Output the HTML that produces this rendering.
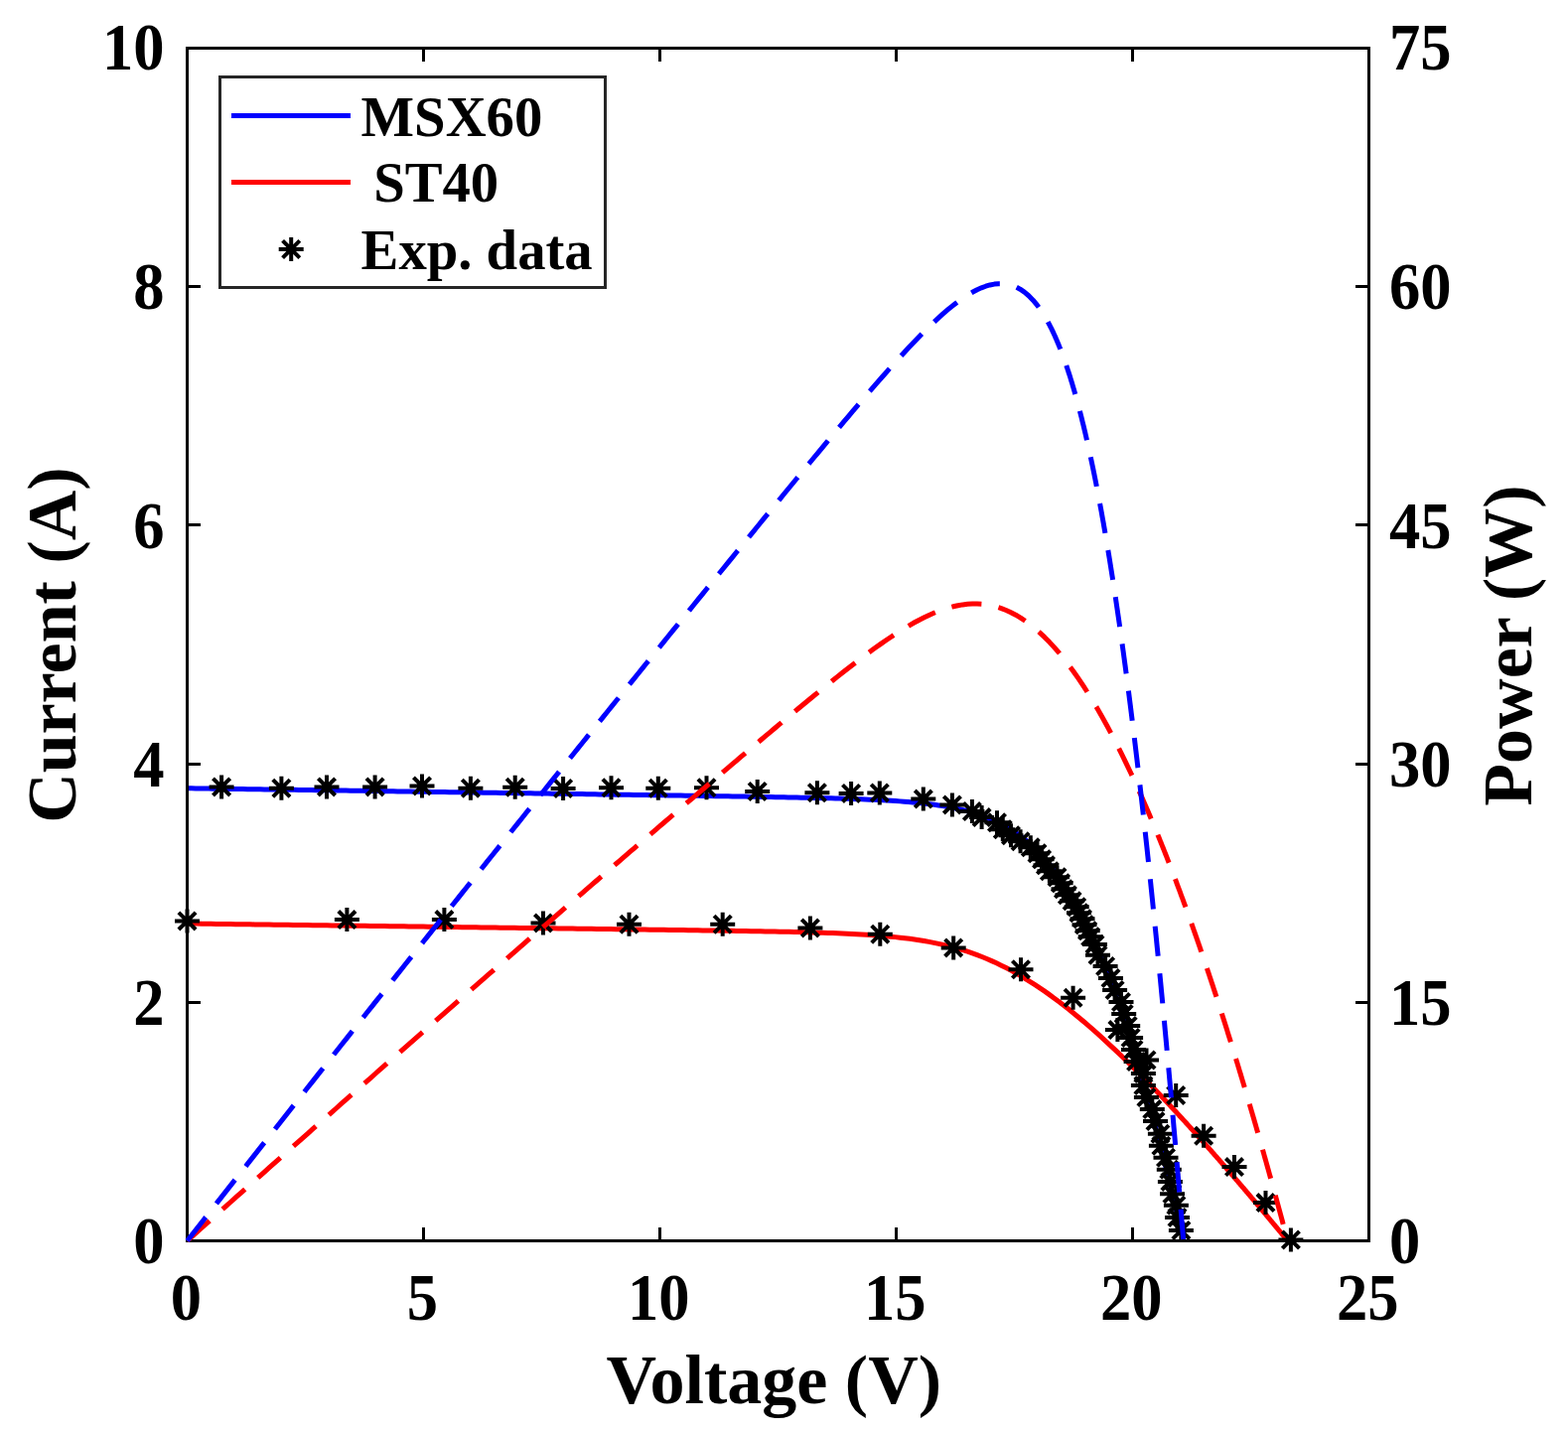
<!DOCTYPE html>
<html lang="en"><head><meta charset="utf-8"><title>I-V and P-V characteristics: MSX60 and ST40</title>
<style>
html,body{margin:0;padding:0;background:#fff;}
body{width:1579px;height:1443px;overflow:hidden;}
svg{display:block;}
text{font-family:"Liberation Serif","Times New Roman",Times,serif;font-weight:bold;fill:#000;}
.tk{font-size:67.3px;}
.lb{font-size:70px;}
.lg{font-size:56.7px;white-space:pre;}
.ax{stroke:#000;stroke-width:3;fill:none;shape-rendering:crispEdges;}
.cv{fill:none;stroke-width:5;stroke-linejoin:round;shape-rendering:auto;}
.st{stroke:#000;stroke-width:4;fill:none;shape-rendering:auto;}
</style></head><body>
<svg width="1579" height="1443" viewBox="0 0 1579 1443" role="img" aria-label="Current-voltage and power-voltage curves of the MSX60 and ST40 modules with experimental data">
<rect x="0" y="0" width="1579" height="1443" fill="#fff"/>
<defs>
<g id="s"><path class="st" d="M-12.5,0H12.5M0,-12.0V12.0M-8.6,-8.6L8.6,8.6M-8.6,8.6L8.6,-8.6"/></g>
</defs>

<path class="cv" stroke="#0000ff" d="M188.50,793.75 L192.82,793.82 L197.15,793.88 L201.47,793.95 L205.79,794.01 L210.12,794.07 L214.44,794.14 L218.76,794.20 L223.09,794.26 L227.41,794.33 L231.73,794.39 L236.06,794.46 L240.38,794.52 L244.71,794.58 L249.03,794.65 L253.35,794.71 L257.68,794.77 L262.00,794.84 L266.32,794.90 L270.65,794.97 L274.97,795.03 L279.29,795.09 L283.62,795.16 L287.94,795.22 L292.26,795.28 L296.59,795.35 L300.91,795.41 L305.23,795.48 L309.56,795.54 L313.88,795.60 L318.20,795.67 L322.53,795.73 L326.85,795.79 L331.17,795.86 L335.50,795.92 L339.82,795.99 L344.14,796.05 L348.47,796.11 L352.79,796.18 L357.12,796.24 L361.44,796.30 L365.76,796.37 L370.09,796.43 L374.41,796.50 L378.73,796.56 L383.06,796.62 L387.38,796.69 L391.70,796.75 L396.03,796.81 L400.35,796.88 L404.67,796.94 L409.00,797.01 L413.32,797.07 L417.64,797.13 L421.97,797.20 L426.29,797.26 L430.61,797.32 L434.94,797.39 L439.26,797.45 L443.58,797.52 L447.91,797.58 L452.23,797.64 L456.55,797.71 L460.88,797.77 L465.20,797.83 L469.53,797.90 L473.85,797.96 L478.17,798.03 L482.50,798.09 L486.82,798.15 L491.14,798.22 L495.47,798.28 L499.79,798.34 L504.11,798.41 L508.44,798.47 L512.76,798.54 L517.08,798.60 L521.41,798.66 L525.73,798.73 L530.05,798.79 L534.38,798.86 L538.70,798.92 L543.02,798.98 L547.35,799.05 L551.67,799.11 L555.99,799.17 L560.32,799.24 L564.64,799.30 L568.97,799.37 L573.29,799.43 L577.61,799.49 L581.94,799.56 L586.26,799.62 L590.58,799.69 L594.91,799.75 L599.23,799.81 L603.55,799.88 L607.88,799.94 L612.20,800.01 L616.52,800.07 L620.85,800.13 L625.17,800.20 L629.49,800.26 L633.82,800.33 L638.14,800.39 L642.46,800.46 L646.79,800.52 L651.11,800.58 L655.43,800.65 L659.76,800.71 L664.08,800.78 L668.40,800.84 L672.73,800.91 L677.05,800.97 L681.38,801.04 L685.70,801.10 L690.02,801.17 L694.35,801.23 L698.67,801.30 L702.99,801.37 L707.32,801.43 L711.64,801.50 L715.96,801.57 L720.29,801.63 L724.61,801.70 L728.93,801.77 L733.26,801.84 L737.58,801.91 L741.90,801.98 L746.23,802.05 L750.55,802.12 L754.87,802.19 L759.20,802.26 L763.52,802.33 L767.84,802.41 L772.17,802.48 L776.49,802.56 L780.82,802.64 L785.14,802.72 L789.46,802.80 L793.79,802.88 L798.11,802.97 L802.43,803.05 L806.76,803.14 L811.08,803.23 L815.40,803.33 L819.73,803.42 L824.05,803.52 L828.37,803.63 L832.70,803.74 L837.02,803.85 L841.34,803.97 L845.67,804.09 L849.99,804.22 L854.31,804.36 L858.64,804.50 L862.96,804.66 L867.28,804.82 L871.61,804.99 L875.93,805.17 L880.25,805.37 L884.58,805.58 L888.90,805.80 L893.23,806.04 L897.55,806.30 L901.87,806.57 L906.20,806.87 L910.52,807.19 L914.84,807.54 L919.17,807.92 L923.49,808.32 L927.81,808.77 L932.14,809.25 L936.46,809.77 L940.78,810.34 L945.11,810.95 L949.43,811.63 L953.75,812.36 L958.08,813.16 L962.40,814.03 L966.72,814.97 L971.05,816.01 L975.37,817.13 L979.69,818.36 L984.02,819.70 L988.34,821.16 L992.66,822.75 L996.99,824.48 L1001.31,826.36 L1005.64,828.41 L1009.96,830.64 L1014.28,833.06 L1018.61,835.68 L1022.93,838.53 L1027.25,841.61 L1031.58,844.94 L1035.90,848.54 L1040.22,852.42 L1044.55,856.60 L1048.87,861.10 L1049.35,861.62 L1049.83,862.14 L1050.30,862.66 L1050.78,863.19 L1051.26,863.73 L1051.74,864.26 L1052.21,864.81 L1052.69,865.35 L1053.17,865.90 L1053.65,866.46 L1054.12,867.02 L1054.60,867.58 L1055.08,868.15 L1055.56,868.72 L1056.03,869.30 L1056.51,869.88 L1056.99,870.46 L1057.47,871.05 L1057.94,871.65 L1058.42,872.24 L1058.90,872.85 L1059.38,873.46 L1059.85,874.07 L1060.33,874.68 L1060.81,875.31 L1061.29,875.93 L1061.76,876.56 L1062.24,877.20 L1062.72,877.84 L1063.20,878.48 L1063.68,879.13 L1064.15,879.78 L1064.63,880.44 L1065.11,881.11 L1065.59,881.77 L1066.06,882.45 L1066.54,883.12 L1067.02,883.81 L1067.50,884.49 L1067.97,885.19 L1068.45,885.88 L1068.93,886.59 L1069.41,887.29 L1069.88,888.00 L1070.36,888.72 L1070.84,889.44 L1071.32,890.17 L1071.79,890.90 L1072.27,891.64 L1072.75,892.38 L1073.23,893.13 L1073.70,893.88 L1074.18,894.64 L1074.66,895.40 L1075.14,896.17 L1075.62,896.94 L1076.09,897.72 L1076.57,898.50 L1077.05,899.29 L1077.53,900.08 L1078.00,900.88 L1078.48,901.68 L1078.96,902.49 L1079.44,903.31 L1079.91,904.13 L1080.39,904.95 L1080.87,905.78 L1081.35,906.62 L1081.82,907.46 L1082.30,908.31 L1082.78,909.16 L1083.26,910.02 L1083.73,910.88 L1084.21,911.75 L1084.69,912.62 L1085.17,913.50 L1085.64,914.38 L1086.12,915.27 L1086.60,916.17 L1087.08,917.07 L1087.55,917.98 L1088.03,918.89 L1088.51,919.81 L1088.99,920.73 L1089.47,921.66 L1089.94,922.59 L1090.42,923.53 L1090.90,924.48 L1091.38,925.43 L1091.85,926.38 L1092.33,927.35 L1092.81,928.31 L1093.29,929.29 L1093.76,930.27 L1094.24,931.25 L1094.72,932.24 L1095.20,933.24 L1095.67,934.24 L1096.15,935.25 L1096.63,936.26 L1097.11,937.28 L1097.58,938.30 L1098.06,939.33 L1098.54,940.37 L1099.02,941.41 L1099.49,942.46 L1099.97,943.51 L1100.45,944.57 L1100.93,945.63 L1101.41,946.70 L1101.88,947.78 L1102.36,948.86 L1102.84,949.95 L1103.32,951.04 L1103.79,952.14 L1104.27,953.25 L1104.75,954.36 L1105.23,955.47 L1105.70,956.60 L1106.18,957.73 L1106.66,958.86 L1107.14,960.00 L1107.61,961.14 L1108.09,962.30 L1108.57,963.45 L1109.05,964.62 L1109.52,965.79 L1110.00,966.96 L1110.48,968.14 L1110.96,969.33 L1111.43,970.52 L1111.91,971.72 L1112.39,972.92 L1112.87,974.13 L1113.34,975.35 L1113.82,976.57 L1114.30,977.80 L1114.78,979.03 L1115.26,980.27 L1115.73,981.51 L1116.21,982.76 L1116.69,984.02 L1117.17,985.28 L1117.64,986.55 L1118.12,987.83 L1118.60,989.11 L1119.08,990.39 L1119.55,991.68 L1120.03,992.98 L1120.51,994.28 L1120.99,995.59 L1121.46,996.91 L1121.94,998.23 L1122.42,999.55 L1122.90,1000.89 L1123.37,1002.22 L1123.85,1003.57 L1124.33,1004.92 L1124.81,1006.27 L1125.28,1007.64 L1125.76,1009.00 L1126.24,1010.37 L1126.72,1011.75 L1127.20,1013.14 L1127.67,1014.53 L1128.15,1015.92 L1128.63,1017.33 L1129.11,1018.73 L1129.58,1020.15 L1130.06,1021.56 L1130.54,1022.99 L1131.02,1024.42 L1131.49,1025.86 L1131.97,1027.30 L1132.45,1028.74 L1132.93,1030.20 L1133.40,1031.66 L1133.88,1033.12 L1134.36,1034.59 L1134.84,1036.07 L1135.31,1037.55 L1135.79,1039.03 L1136.27,1040.53 L1136.75,1042.03 L1137.22,1043.53 L1137.70,1045.04 L1138.18,1046.55 L1138.66,1048.08 L1139.13,1049.60 L1139.61,1051.13 L1140.09,1052.67 L1140.57,1054.21 L1141.05,1055.76 L1141.52,1057.32 L1142.00,1058.88 L1142.48,1060.44 L1142.96,1062.01 L1143.43,1063.59 L1143.91,1065.17 L1144.39,1066.76 L1144.87,1068.35 L1145.34,1069.95 L1145.82,1071.55 L1146.30,1073.16 L1146.78,1074.78 L1147.25,1076.40 L1147.73,1078.02 L1148.21,1079.65 L1148.69,1081.29 L1149.16,1082.93 L1149.64,1084.58 L1150.12,1086.23 L1150.60,1087.89 L1151.07,1089.55 L1151.55,1091.22 L1152.03,1092.90 L1152.51,1094.57 L1152.99,1096.26 L1153.46,1097.95 L1153.94,1099.64 L1154.42,1101.34 L1154.90,1103.05 L1155.37,1104.76 L1155.85,1106.48 L1156.33,1108.20 L1156.81,1109.92 L1157.28,1111.65 L1157.76,1113.39 L1158.24,1115.13 L1158.72,1116.88 L1159.19,1118.63 L1159.67,1120.39 L1160.15,1122.15 L1160.63,1123.92 L1161.10,1125.69 L1161.58,1127.47 L1162.06,1129.25 L1162.54,1131.04 L1163.01,1132.83 L1163.49,1134.63 L1163.97,1136.43 L1164.45,1138.24 L1164.92,1140.05 L1165.40,1141.87 L1165.88,1143.69 L1166.36,1145.52 L1166.84,1147.35 L1167.31,1149.19 L1167.79,1151.03 L1168.27,1152.88 L1168.75,1154.73 L1169.22,1156.59 L1169.70,1158.45 L1170.18,1160.32 L1170.66,1162.19 L1171.13,1164.07 L1171.61,1165.95 L1172.09,1167.83 L1172.57,1169.72 L1173.04,1171.62 L1173.52,1173.52 L1174.00,1175.42 L1174.48,1177.33 L1174.95,1179.25 L1175.43,1181.17 L1175.91,1183.09 L1176.39,1185.02 L1176.86,1186.95 L1177.34,1188.89 L1177.82,1190.83 L1178.30,1192.78 L1178.78,1194.73 L1179.25,1196.69 L1179.73,1198.65 L1180.21,1200.61 L1180.69,1202.58 L1181.16,1204.56 L1181.64,1206.53 L1182.12,1208.52 L1182.60,1210.50 L1183.07,1212.50 L1183.55,1214.49 L1184.03,1216.49 L1184.51,1218.50 L1184.98,1220.51 L1185.46,1222.52 L1185.94,1224.54 L1186.42,1226.57 L1186.89,1228.59 L1187.37,1230.62 L1187.85,1232.66 L1188.33,1234.70 L1188.80,1236.74 L1189.28,1238.79 L1189.76,1240.85 L1190.24,1242.90 L1190.71,1244.97 L1191.19,1247.03 L1191.67,1249.10"/>
<path class="cv" stroke="#ff0000" d="M188.50,929.99 L193.35,930.06 L198.20,930.12 L203.05,930.19 L207.90,930.25 L212.75,930.31 L217.61,930.38 L222.46,930.44 L227.31,930.51 L232.16,930.57 L237.01,930.63 L241.86,930.70 L246.71,930.76 L251.56,930.83 L256.41,930.89 L261.26,930.95 L266.11,931.02 L270.97,931.08 L275.82,931.14 L280.67,931.21 L285.52,931.27 L290.37,931.34 L295.22,931.40 L300.07,931.46 L304.92,931.53 L309.77,931.59 L314.62,931.66 L319.47,931.72 L324.33,931.78 L329.18,931.85 L334.03,931.91 L338.88,931.97 L343.73,932.04 L348.58,932.10 L353.43,932.17 L358.28,932.23 L363.13,932.29 L367.98,932.36 L372.83,932.42 L377.68,932.49 L382.54,932.55 L387.39,932.61 L392.24,932.68 L397.09,932.74 L401.94,932.80 L406.79,932.87 L411.64,932.93 L416.49,933.00 L421.34,933.06 L426.19,933.12 L431.04,933.19 L435.90,933.25 L440.75,933.32 L445.60,933.38 L450.45,933.44 L455.30,933.51 L460.15,933.57 L465.00,933.64 L469.85,933.70 L474.70,933.76 L479.55,933.83 L484.40,933.89 L489.26,933.95 L494.11,934.02 L498.96,934.08 L503.81,934.15 L508.66,934.21 L513.51,934.27 L518.36,934.34 L523.21,934.40 L528.06,934.47 L532.91,934.53 L537.76,934.59 L542.62,934.66 L547.47,934.72 L552.32,934.79 L557.17,934.85 L562.02,934.91 L566.87,934.98 L571.72,935.04 L576.57,935.11 L581.42,935.17 L586.27,935.23 L591.12,935.30 L595.98,935.36 L600.83,935.43 L605.68,935.49 L610.53,935.56 L615.38,935.62 L620.23,935.69 L625.08,935.75 L629.93,935.82 L634.78,935.88 L639.63,935.95 L644.48,936.01 L649.33,936.08 L654.19,936.14 L659.04,936.21 L663.89,936.27 L668.74,936.34 L673.59,936.41 L678.44,936.47 L683.29,936.54 L688.14,936.61 L692.99,936.68 L697.84,936.74 L702.69,936.81 L707.55,936.88 L712.40,936.95 L717.25,937.02 L722.10,937.10 L726.95,937.17 L731.80,937.24 L736.65,937.32 L741.50,937.39 L746.35,937.47 L751.20,937.55 L756.05,937.63 L760.91,937.71 L765.76,937.80 L770.61,937.89 L775.46,937.98 L780.31,938.07 L785.16,938.17 L790.01,938.27 L794.86,938.37 L799.71,938.48 L804.56,938.60 L809.41,938.72 L814.27,938.85 L819.12,938.98 L823.97,939.13 L828.82,939.28 L833.67,939.44 L838.52,939.61 L843.37,939.80 L848.22,940.00 L853.07,940.21 L857.92,940.44 L862.77,940.69 L867.63,940.96 L872.48,941.25 L877.33,941.57 L882.18,941.91 L887.03,942.29 L891.88,942.69 L896.73,943.14 L901.58,943.62 L906.43,944.14 L911.28,944.71 L916.13,945.33 L920.99,946.00 L925.84,946.74 L930.69,947.53 L935.54,948.39 L940.39,949.33 L945.24,950.34 L950.09,951.43 L954.94,952.60 L959.79,953.87 L964.64,955.22 L969.49,956.68 L974.34,958.23 L979.20,959.89 L984.05,961.65 L988.90,963.53 L993.75,965.51 L998.60,967.61 L1003.45,969.82 L1008.30,972.15 L1013.15,974.59 L1018.00,977.15 L1022.85,979.82 L1027.70,982.60 L1032.56,985.50 L1037.41,988.51 L1042.26,991.63 L1047.11,994.85 L1051.96,998.18 L1056.81,1001.61 L1061.66,1005.15 L1066.51,1008.77 L1071.36,1012.50 L1076.21,1016.31 L1081.06,1020.22 L1085.92,1024.21 L1090.77,1028.28 L1095.62,1032.44 L1100.47,1036.67 L1105.32,1040.98 L1110.17,1045.36 L1115.02,1049.81 L1119.87,1054.33 L1124.72,1058.92 L1129.57,1063.56 L1134.42,1068.27 L1139.28,1073.04 L1144.13,1077.86 L1148.98,1082.74 L1153.83,1087.67 L1154.31,1088.15 L1154.78,1088.64 L1155.26,1089.13 L1155.74,1089.62 L1156.22,1090.11 L1156.69,1090.60 L1157.17,1091.09 L1157.65,1091.58 L1158.13,1092.08 L1158.60,1092.57 L1159.08,1093.06 L1159.56,1093.55 L1160.04,1094.05 L1160.51,1094.54 L1160.99,1095.04 L1161.47,1095.53 L1161.95,1096.03 L1162.42,1096.52 L1162.90,1097.02 L1163.38,1097.52 L1163.86,1098.02 L1164.34,1098.51 L1164.81,1099.01 L1165.29,1099.51 L1165.77,1100.01 L1166.25,1100.51 L1166.72,1101.01 L1167.20,1101.51 L1167.68,1102.01 L1168.16,1102.51 L1168.63,1103.02 L1169.11,1103.52 L1169.59,1104.02 L1170.07,1104.52 L1170.54,1105.03 L1171.02,1105.53 L1171.50,1106.04 L1171.98,1106.54 L1172.45,1107.05 L1172.93,1107.55 L1173.41,1108.06 L1173.89,1108.57 L1174.36,1109.07 L1174.84,1109.58 L1175.32,1110.09 L1175.80,1110.60 L1176.27,1111.11 L1176.75,1111.61 L1177.23,1112.12 L1177.71,1112.63 L1178.19,1113.14 L1178.66,1113.66 L1179.14,1114.17 L1179.62,1114.68 L1180.10,1115.19 L1180.57,1115.70 L1181.05,1116.22 L1181.53,1116.73 L1182.01,1117.24 L1182.48,1117.76 L1182.96,1118.27 L1183.44,1118.79 L1183.92,1119.30 L1184.39,1119.82 L1184.87,1120.33 L1185.35,1120.85 L1185.83,1121.37 L1186.30,1121.88 L1186.78,1122.40 L1187.26,1122.92 L1187.74,1123.44 L1188.21,1123.96 L1188.69,1124.47 L1189.17,1124.99 L1189.65,1125.51 L1190.12,1126.03 L1190.60,1126.55 L1191.08,1127.08 L1191.56,1127.60 L1192.04,1128.12 L1192.51,1128.64 L1192.99,1129.16 L1193.47,1129.69 L1193.95,1130.21 L1194.42,1130.73 L1194.90,1131.26 L1195.38,1131.78 L1195.86,1132.31 L1196.33,1132.83 L1196.81,1133.36 L1197.29,1133.88 L1197.77,1134.41 L1198.24,1134.93 L1198.72,1135.46 L1199.20,1135.99 L1199.68,1136.52 L1200.15,1137.04 L1200.63,1137.57 L1201.11,1138.10 L1201.59,1138.63 L1202.06,1139.16 L1202.54,1139.69 L1203.02,1140.22 L1203.50,1140.75 L1203.98,1141.28 L1204.45,1141.81 L1204.93,1142.34 L1205.41,1142.87 L1205.89,1143.40 L1206.36,1143.94 L1206.84,1144.47 L1207.32,1145.00 L1207.80,1145.53 L1208.27,1146.07 L1208.75,1146.60 L1209.23,1147.14 L1209.71,1147.67 L1210.18,1148.21 L1210.66,1148.74 L1211.14,1149.28 L1211.62,1149.81 L1212.09,1150.35 L1212.57,1150.88 L1213.05,1151.42 L1213.53,1151.96 L1214.00,1152.50 L1214.48,1153.03 L1214.96,1153.57 L1215.44,1154.11 L1215.91,1154.65 L1216.39,1155.19 L1216.87,1155.73 L1217.35,1156.27 L1217.83,1156.81 L1218.30,1157.35 L1218.78,1157.89 L1219.26,1158.43 L1219.74,1158.97 L1220.21,1159.51 L1220.69,1160.05 L1221.17,1160.60 L1221.65,1161.14 L1222.12,1161.68 L1222.60,1162.22 L1223.08,1162.77 L1223.56,1163.31 L1224.03,1163.85 L1224.51,1164.40 L1224.99,1164.94 L1225.47,1165.49 L1225.94,1166.03 L1226.42,1166.58 L1226.90,1167.12 L1227.38,1167.67 L1227.85,1168.22 L1228.33,1168.76 L1228.81,1169.31 L1229.29,1169.86 L1229.77,1170.40 L1230.24,1170.95 L1230.72,1171.50 L1231.20,1172.05 L1231.68,1172.60 L1232.15,1173.14 L1232.63,1173.69 L1233.11,1174.24 L1233.59,1174.79 L1234.06,1175.34 L1234.54,1175.89 L1235.02,1176.44 L1235.50,1176.99 L1235.97,1177.54 L1236.45,1178.10 L1236.93,1178.65 L1237.41,1179.20 L1237.88,1179.75 L1238.36,1180.30 L1238.84,1180.86 L1239.32,1181.41 L1239.79,1181.96 L1240.27,1182.52 L1240.75,1183.07 L1241.23,1183.62 L1241.70,1184.18 L1242.18,1184.73 L1242.66,1185.29 L1243.14,1185.84 L1243.62,1186.40 L1244.09,1186.95 L1244.57,1187.51 L1245.05,1188.06 L1245.53,1188.62 L1246.00,1189.18 L1246.48,1189.73 L1246.96,1190.29 L1247.44,1190.85 L1247.91,1191.41 L1248.39,1191.96 L1248.87,1192.52 L1249.35,1193.08 L1249.82,1193.64 L1250.30,1194.20 L1250.78,1194.76 L1251.26,1195.31 L1251.73,1195.87 L1252.21,1196.43 L1252.69,1196.99 L1253.17,1197.55 L1253.64,1198.11 L1254.12,1198.68 L1254.60,1199.24 L1255.08,1199.80 L1255.56,1200.36 L1256.03,1200.92 L1256.51,1201.48 L1256.99,1202.05 L1257.47,1202.61 L1257.94,1203.17 L1258.42,1203.73 L1258.90,1204.30 L1259.38,1204.86 L1259.85,1205.42 L1260.33,1205.99 L1260.81,1206.55 L1261.29,1207.12 L1261.76,1207.68 L1262.24,1208.24 L1262.72,1208.81 L1263.20,1209.38 L1263.67,1209.94 L1264.15,1210.51 L1264.63,1211.07 L1265.11,1211.64 L1265.58,1212.20 L1266.06,1212.77 L1266.54,1213.34 L1267.02,1213.91 L1267.49,1214.47 L1267.97,1215.04 L1268.45,1215.61 L1268.93,1216.18 L1269.41,1216.74 L1269.88,1217.31 L1270.36,1217.88 L1270.84,1218.45 L1271.32,1219.02 L1271.79,1219.59 L1272.27,1220.16 L1272.75,1220.73 L1273.23,1221.30 L1273.70,1221.87 L1274.18,1222.44 L1274.66,1223.01 L1275.14,1223.58 L1275.61,1224.15 L1276.09,1224.72 L1276.57,1225.29 L1277.05,1225.86 L1277.52,1226.44 L1278.00,1227.01 L1278.48,1227.58 L1278.96,1228.15 L1279.43,1228.72 L1279.91,1229.30 L1280.39,1229.87 L1280.87,1230.44 L1281.35,1231.02 L1281.82,1231.59 L1282.30,1232.16 L1282.78,1232.74 L1283.26,1233.31 L1283.73,1233.89 L1284.21,1234.46 L1284.69,1235.04 L1285.17,1235.61 L1285.64,1236.19 L1286.12,1236.76 L1286.60,1237.34 L1287.08,1237.91 L1287.55,1238.49 L1288.03,1239.07 L1288.51,1239.64 L1288.99,1240.22 L1289.46,1240.80 L1289.94,1241.37 L1290.42,1241.95 L1290.90,1242.53 L1291.37,1243.11 L1291.85,1243.68 L1292.33,1244.26 L1292.81,1244.84 L1293.28,1245.42 L1293.76,1246.00 L1294.24,1246.58 L1294.72,1247.16 L1295.20,1247.73 L1295.67,1248.31 L1296.15,1248.89 L1296.63,1249.47"/>
<g id="expdata">
<use href="#s" x="188.5" y="927.4"/>
<use href="#s" x="349.4" y="926.1"/>
<use href="#s" x="447.4" y="926.1"/>
<use href="#s" x="547.0" y="929.4"/>
<use href="#s" x="633.5" y="930.7"/>
<use href="#s" x="727.7" y="930.7"/>
<use href="#s" x="815.9" y="934.5"/>
<use href="#s" x="886.3" y="940.8"/>
<use href="#s" x="960.2" y="954.4"/>
<use href="#s" x="1028.0" y="976.2"/>
<use href="#s" x="1080.6" y="1004.7"/>
<use href="#s" x="1125.4" y="1037.1"/>
<use href="#s" x="1154.5" y="1067.4"/>
<use href="#s" x="1184.2" y="1103.0"/>
<use href="#s" x="1212.1" y="1143.8"/>
<use href="#s" x="1243.0" y="1175.1"/>
<use href="#s" x="1274.5" y="1211.1"/>
<use href="#s" x="1299.9" y="1248.5"/>
<use href="#s" x="223.1" y="792.4"/>
<use href="#s" x="283.4" y="793.7"/>
<use href="#s" x="329.0" y="792.4"/>
<use href="#s" x="377.6" y="792.4"/>
<use href="#s" x="425.0" y="791.4"/>
<use href="#s" x="473.9" y="793.7"/>
<use href="#s" x="518.7" y="792.7"/>
<use href="#s" x="567.1" y="794.0"/>
<use href="#s" x="615.5" y="793.2"/>
<use href="#s" x="662.8" y="793.7"/>
<use href="#s" x="711.5" y="793.2"/>
<use href="#s" x="762.7" y="797.0"/>
<use href="#s" x="822.9" y="798.3"/>
<use href="#s" x="857.1" y="798.9"/>
<use href="#s" x="885.8" y="798.4"/>
<use href="#s" x="929.8" y="804.6"/>
<use href="#s" x="958.9" y="810.4"/>
<use href="#s" x="978.9" y="817.1"/>
<use href="#s" x="988.6" y="823.1"/>
<use href="#s" x="1004.0" y="828.2"/>
<use href="#s" x="1009.8" y="835.2"/>
<use href="#s" x="1018.0" y="841.2"/>
<use href="#s" x="1027.6" y="847.2"/>
<use href="#s" x="1037.8" y="853.2"/>
<use href="#s" x="1044.5" y="859.2"/>
<use href="#s" x="1049.1" y="865.2"/>
<use href="#s" x="1053.0" y="871.2"/>
<use href="#s" x="1056.9" y="877.2"/>
<use href="#s" x="1064.5" y="883.2"/>
<use href="#s" x="1068.1" y="889.2"/>
<use href="#s" x="1071.0" y="895.2"/>
<use href="#s" x="1074.9" y="901.2"/>
<use href="#s" x="1079.6" y="907.2"/>
<use href="#s" x="1084.2" y="913.2"/>
<use href="#s" x="1086.5" y="919.2"/>
<use href="#s" x="1090.0" y="925.2"/>
<use href="#s" x="1092.0" y="931.2"/>
<use href="#s" x="1095.2" y="937.2"/>
<use href="#s" x="1098.2" y="943.2"/>
<use href="#s" x="1102.5" y="950.9"/>
<use href="#s" x="1105.5" y="961.8"/>
<use href="#s" x="1113.1" y="973.0"/>
<use href="#s" x="1118.5" y="985.0"/>
<use href="#s" x="1122.6" y="997.0"/>
<use href="#s" x="1129.0" y="1009.0"/>
<use href="#s" x="1131.7" y="1021.0"/>
<use href="#s" x="1135.7" y="1033.0"/>
<use href="#s" x="1138.6" y="1045.0"/>
<use href="#s" x="1141.5" y="1057.0"/>
<use href="#s" x="1144.1" y="1069.0"/>
<use href="#s" x="1151.4" y="1081.1"/>
<use href="#s" x="1151.4" y="1093.1"/>
<use href="#s" x="1154.4" y="1105.1"/>
<use href="#s" x="1160.3" y="1117.1"/>
<use href="#s" x="1163.5" y="1129.1"/>
<use href="#s" x="1168.4" y="1141.8"/>
<use href="#s" x="1169.4" y="1153.8"/>
<use href="#s" x="1174.0" y="1165.8"/>
<use href="#s" x="1177.3" y="1177.8"/>
<use href="#s" x="1178.4" y="1189.9"/>
<use href="#s" x="1180.5" y="1202.2"/>
<use href="#s" x="1184.4" y="1213.8"/>
<use href="#s" x="1185.5" y="1226.0"/>
<use href="#s" x="1189.4" y="1239.0"/>
</g>
<rect class="ax" x="188.5" y="48.5" width="1190.0" height="1201.0"/>
<path class="ax" d="M426.5,1249.5V1236.0M426.5,48.5V62.0M664.5,1249.5V1236.0M664.5,48.5V62.0M902.5,1249.5V1236.0M902.5,48.5V62.0M1140.5,1249.5V1236.0M1140.5,48.5V62.0M188.5,1009.5H202.0M188.5,769.5H202.0M188.5,528.5H202.0M188.5,288.5H202.0M1378.5,1009.5H1365.0M1378.5,769.5H1365.0M1378.5,528.5H1365.0M1378.5,288.5H1365.0"/>
<path class="cv" stroke="#ff0000" stroke-dasharray="30.3 17.445" d="M188.50,1249.50 L193.35,1245.16 L198.20,1240.82 L203.05,1236.48 L207.90,1232.15 L212.75,1227.81 L217.61,1223.48 L222.46,1219.15 L227.31,1214.82 L232.16,1210.50 L237.01,1206.17 L241.86,1201.85 L246.71,1197.53 L251.56,1193.21 L256.41,1188.89 L261.26,1184.57 L266.11,1180.26 L270.97,1175.95 L275.82,1171.64 L280.67,1167.33 L285.52,1163.02 L290.37,1158.71 L295.22,1154.41 L300.07,1150.11 L304.92,1145.81 L309.77,1141.51 L314.62,1137.21 L319.47,1132.91 L324.33,1128.62 L329.18,1124.33 L334.03,1120.04 L338.88,1115.75 L343.73,1111.46 L348.58,1107.18 L353.43,1102.89 L358.28,1098.61 L363.13,1094.33 L367.98,1090.06 L372.83,1085.78 L377.68,1081.50 L382.54,1077.23 L387.39,1072.96 L392.24,1068.69 L397.09,1064.42 L401.94,1060.16 L406.79,1055.89 L411.64,1051.63 L416.49,1047.37 L421.34,1043.11 L426.19,1038.85 L431.04,1034.60 L435.90,1030.34 L440.75,1026.09 L445.60,1021.84 L450.45,1017.59 L455.30,1013.35 L460.15,1009.10 L465.00,1004.86 L469.85,1000.62 L474.70,996.38 L479.55,992.14 L484.40,987.90 L489.26,983.67 L494.11,979.44 L498.96,975.20 L503.81,970.97 L508.66,966.75 L513.51,962.52 L518.36,958.30 L523.21,954.07 L528.06,949.85 L532.91,945.63 L537.76,941.42 L542.62,937.20 L547.47,932.99 L552.32,928.78 L557.17,924.57 L562.02,920.36 L566.87,916.15 L571.72,911.95 L576.57,907.74 L581.42,903.54 L586.27,899.34 L591.12,895.14 L595.98,890.95 L600.83,886.75 L605.68,882.56 L610.53,878.37 L615.38,874.18 L620.23,870.00 L625.08,865.81 L629.93,861.63 L634.78,857.45 L639.63,853.27 L644.48,849.09 L649.33,844.92 L654.19,840.74 L659.04,836.57 L663.89,832.40 L668.74,828.24 L673.59,824.07 L678.44,819.91 L683.29,815.75 L688.14,811.59 L692.99,807.43 L697.84,803.28 L702.69,799.13 L707.55,794.98 L712.40,790.84 L717.25,786.70 L722.10,782.56 L726.95,778.42 L731.80,774.29 L736.65,770.16 L741.50,766.04 L746.35,761.92 L751.20,757.80 L756.05,753.69 L760.91,749.59 L765.76,745.49 L770.61,741.40 L775.46,737.31 L780.31,733.24 L785.16,729.17 L790.01,725.11 L794.86,721.06 L799.71,717.02 L804.56,712.99 L809.41,708.97 L814.27,704.98 L819.12,700.99 L823.97,697.03 L828.82,693.08 L833.67,689.16 L838.52,685.26 L843.37,681.39 L848.22,677.55 L853.07,673.74 L857.92,669.97 L862.77,666.24 L867.63,662.56 L872.48,658.93 L877.33,655.35 L882.18,651.84 L887.03,648.39 L891.88,645.01 L896.73,641.72 L901.58,638.52 L906.43,635.42 L911.28,632.42 L916.13,629.55 L920.99,626.80 L925.84,624.18 L930.69,621.72 L935.54,619.42 L940.39,617.30 L945.24,615.36 L950.09,613.62 L954.94,612.09 L959.79,610.79 L964.64,609.72 L969.49,608.90 L974.34,608.34 L979.20,608.06 L984.05,608.06 L988.90,608.35 L993.75,608.94 L998.60,609.84 L1003.45,611.06 L1008.30,612.60 L1013.15,614.47 L1018.00,616.68 L1022.85,619.22 L1027.70,622.11 L1032.56,625.33 L1037.41,628.90 L1042.26,632.80 L1047.11,637.06 L1051.96,641.65 L1056.81,646.58 L1061.66,651.85 L1066.51,657.46 L1071.36,663.39 L1076.21,669.66 L1081.06,676.25 L1085.92,683.17 L1090.77,690.41 L1095.62,697.96 L1100.47,705.82 L1105.32,714.00 L1110.17,722.47 L1115.02,731.25 L1119.87,740.33 L1124.72,749.70 L1129.57,759.36 L1134.42,769.31 L1139.28,779.54 L1144.13,790.05 L1148.98,800.84 L1153.83,811.90 L1154.31,813.01 L1154.78,814.11 L1155.26,815.22 L1155.74,816.33 L1156.22,817.45 L1156.69,818.56 L1157.17,819.68 L1157.65,820.81 L1158.13,821.93 L1158.60,823.06 L1159.08,824.19 L1159.56,825.32 L1160.04,826.46 L1160.51,827.59 L1160.99,828.73 L1161.47,829.88 L1161.95,831.02 L1162.42,832.17 L1162.90,833.32 L1163.38,834.48 L1163.86,835.63 L1164.34,836.79 L1164.81,837.95 L1165.29,839.11 L1165.77,840.28 L1166.25,841.45 L1166.72,842.62 L1167.20,843.79 L1167.68,844.97 L1168.16,846.15 L1168.63,847.33 L1169.11,848.51 L1169.59,849.70 L1170.07,850.89 L1170.54,852.08 L1171.02,853.28 L1171.50,854.47 L1171.98,855.67 L1172.45,856.87 L1172.93,858.08 L1173.41,859.28 L1173.89,860.49 L1174.36,861.71 L1174.84,862.92 L1175.32,864.14 L1175.80,865.36 L1176.27,866.58 L1176.75,867.80 L1177.23,869.03 L1177.71,870.26 L1178.19,871.49 L1178.66,872.73 L1179.14,873.96 L1179.62,875.20 L1180.10,876.44 L1180.57,877.69 L1181.05,878.94 L1181.53,880.18 L1182.01,881.44 L1182.48,882.69 L1182.96,883.95 L1183.44,885.21 L1183.92,886.47 L1184.39,887.73 L1184.87,889.00 L1185.35,890.27 L1185.83,891.54 L1186.30,892.81 L1186.78,894.09 L1187.26,895.37 L1187.74,896.65 L1188.21,897.93 L1188.69,899.22 L1189.17,900.51 L1189.65,901.80 L1190.12,903.09 L1190.60,904.39 L1191.08,905.69 L1191.56,906.99 L1192.04,908.29 L1192.51,909.60 L1192.99,910.91 L1193.47,912.22 L1193.95,913.53 L1194.42,914.85 L1194.90,916.17 L1195.38,917.49 L1195.86,918.81 L1196.33,920.13 L1196.81,921.46 L1197.29,922.79 L1197.77,924.12 L1198.24,925.46 L1198.72,926.80 L1199.20,928.14 L1199.68,929.48 L1200.15,930.82 L1200.63,932.17 L1201.11,933.52 L1201.59,934.87 L1202.06,936.23 L1202.54,937.58 L1203.02,938.94 L1203.50,940.30 L1203.98,941.67 L1204.45,943.03 L1204.93,944.40 L1205.41,945.77 L1205.89,947.14 L1206.36,948.52 L1206.84,949.90 L1207.32,951.28 L1207.80,952.66 L1208.27,954.05 L1208.75,955.43 L1209.23,956.82 L1209.71,958.21 L1210.18,959.61 L1210.66,961.01 L1211.14,962.41 L1211.62,963.81 L1212.09,965.21 L1212.57,966.62 L1213.05,968.03 L1213.53,969.44 L1214.00,970.85 L1214.48,972.27 L1214.96,973.68 L1215.44,975.10 L1215.91,976.53 L1216.39,977.95 L1216.87,979.38 L1217.35,980.81 L1217.83,982.24 L1218.30,983.68 L1218.78,985.11 L1219.26,986.55 L1219.74,987.99 L1220.21,989.44 L1220.69,990.88 L1221.17,992.33 L1221.65,993.78 L1222.12,995.24 L1222.60,996.69 L1223.08,998.15 L1223.56,999.61 L1224.03,1001.07 L1224.51,1002.54 L1224.99,1004.00 L1225.47,1005.47 L1225.94,1006.94 L1226.42,1008.42 L1226.90,1009.89 L1227.38,1011.37 L1227.85,1012.85 L1228.33,1014.33 L1228.81,1015.82 L1229.29,1017.31 L1229.77,1018.80 L1230.24,1020.29 L1230.72,1021.78 L1231.20,1023.28 L1231.68,1024.78 L1232.15,1026.28 L1232.63,1027.79 L1233.11,1029.29 L1233.59,1030.80 L1234.06,1032.31 L1234.54,1033.82 L1235.02,1035.34 L1235.50,1036.86 L1235.97,1038.37 L1236.45,1039.90 L1236.93,1041.42 L1237.41,1042.95 L1237.88,1044.48 L1238.36,1046.01 L1238.84,1047.54 L1239.32,1049.08 L1239.79,1050.61 L1240.27,1052.15 L1240.75,1053.70 L1241.23,1055.24 L1241.70,1056.79 L1242.18,1058.34 L1242.66,1059.89 L1243.14,1061.44 L1243.62,1063.00 L1244.09,1064.56 L1244.57,1066.12 L1245.05,1067.68 L1245.53,1069.24 L1246.00,1070.81 L1246.48,1072.38 L1246.96,1073.95 L1247.44,1075.52 L1247.91,1077.10 L1248.39,1078.68 L1248.87,1080.26 L1249.35,1081.84 L1249.82,1083.43 L1250.30,1085.01 L1250.78,1086.60 L1251.26,1088.20 L1251.73,1089.79 L1252.21,1091.39 L1252.69,1092.98 L1253.17,1094.58 L1253.64,1096.19 L1254.12,1097.79 L1254.60,1099.40 L1255.08,1101.01 L1255.56,1102.62 L1256.03,1104.24 L1256.51,1105.85 L1256.99,1107.47 L1257.47,1109.09 L1257.94,1110.71 L1258.42,1112.34 L1258.90,1113.97 L1259.38,1115.59 L1259.85,1117.23 L1260.33,1118.86 L1260.81,1120.50 L1261.29,1122.13 L1261.76,1123.78 L1262.24,1125.42 L1262.72,1127.06 L1263.20,1128.71 L1263.67,1130.36 L1264.15,1132.01 L1264.63,1133.66 L1265.11,1135.32 L1265.58,1136.98 L1266.06,1138.64 L1266.54,1140.30 L1267.02,1141.97 L1267.49,1143.63 L1267.97,1145.30 L1268.45,1146.97 L1268.93,1148.65 L1269.41,1150.32 L1269.88,1152.00 L1270.36,1153.68 L1270.84,1155.36 L1271.32,1157.05 L1271.79,1158.73 L1272.27,1160.42 L1272.75,1162.11 L1273.23,1163.81 L1273.70,1165.50 L1274.18,1167.20 L1274.66,1168.90 L1275.14,1170.60 L1275.61,1172.30 L1276.09,1174.01 L1276.57,1175.72 L1277.05,1177.43 L1277.52,1179.14 L1278.00,1180.86 L1278.48,1182.57 L1278.96,1184.29 L1279.43,1186.01 L1279.91,1187.74 L1280.39,1189.46 L1280.87,1191.19 L1281.35,1192.92 L1281.82,1194.65 L1282.30,1196.39 L1282.78,1198.12 L1283.26,1199.86 L1283.73,1201.60 L1284.21,1203.35 L1284.69,1205.09 L1285.17,1206.84 L1285.64,1208.59 L1286.12,1210.34 L1286.60,1212.09 L1287.08,1213.85 L1287.55,1215.61 L1288.03,1217.37 L1288.51,1219.13 L1288.99,1220.89 L1289.46,1222.66 L1289.94,1224.43 L1290.42,1226.20 L1290.90,1227.97 L1291.37,1229.75 L1291.85,1231.53 L1292.33,1233.31 L1292.81,1235.09 L1293.28,1236.87 L1293.76,1238.66 L1294.24,1240.44 L1294.72,1242.23 L1295.20,1244.03 L1295.67,1245.82 L1296.15,1247.62 L1296.63,1249.42"/>
<path class="cv" stroke="#0000ff" stroke-dasharray="30.3 17.416" d="M188.50,1249.50 L192.82,1243.98 L197.15,1238.46 L201.47,1232.95 L205.79,1227.44 L210.12,1221.92 L214.44,1216.41 L218.76,1210.90 L223.09,1205.39 L227.41,1199.89 L231.73,1194.38 L236.06,1188.88 L240.38,1183.38 L244.71,1177.88 L249.03,1172.38 L253.35,1166.88 L257.68,1161.39 L262.00,1155.89 L266.32,1150.40 L270.65,1144.91 L274.97,1139.42 L279.29,1133.93 L283.62,1128.45 L287.94,1122.96 L292.26,1117.48 L296.59,1112.00 L300.91,1106.52 L305.23,1101.04 L309.56,1095.56 L313.88,1090.09 L318.20,1084.61 L322.53,1079.14 L326.85,1073.67 L331.17,1068.20 L335.50,1062.74 L339.82,1057.27 L344.14,1051.80 L348.47,1046.34 L352.79,1040.88 L357.12,1035.42 L361.44,1029.96 L365.76,1024.51 L370.09,1019.05 L374.41,1013.60 L378.73,1008.14 L383.06,1002.69 L387.38,997.24 L391.70,991.80 L396.03,986.35 L400.35,980.91 L404.67,975.46 L409.00,970.02 L413.32,964.58 L417.64,959.14 L421.97,953.71 L426.29,948.27 L430.61,942.84 L434.94,937.41 L439.26,931.98 L443.58,926.55 L447.91,921.12 L452.23,915.69 L456.55,910.27 L460.88,904.85 L465.20,899.43 L469.53,894.01 L473.85,888.59 L478.17,883.17 L482.50,877.76 L486.82,872.34 L491.14,866.93 L495.47,861.52 L499.79,856.11 L504.11,850.70 L508.44,845.30 L512.76,839.89 L517.08,834.49 L521.41,829.09 L525.73,823.69 L530.05,818.29 L534.38,812.90 L538.70,807.50 L543.02,802.11 L547.35,796.72 L551.67,791.32 L555.99,785.94 L560.32,780.55 L564.64,775.16 L568.97,769.78 L573.29,764.40 L577.61,759.02 L581.94,753.64 L586.26,748.26 L590.58,742.88 L594.91,737.51 L599.23,732.13 L603.55,726.76 L607.88,721.39 L612.20,716.02 L616.52,710.66 L620.85,705.29 L625.17,699.93 L629.49,694.57 L633.82,689.21 L638.14,683.85 L642.46,678.49 L646.79,673.14 L651.11,667.78 L655.43,662.43 L659.76,657.08 L664.08,651.73 L668.40,646.38 L672.73,641.04 L677.05,635.69 L681.38,630.35 L685.70,625.01 L690.02,619.67 L694.35,614.34 L698.67,609.00 L702.99,603.67 L707.32,598.34 L711.64,593.01 L715.96,587.68 L720.29,582.36 L724.61,577.04 L728.93,571.72 L733.26,566.40 L737.58,561.08 L741.90,555.77 L746.23,550.46 L750.55,545.15 L754.87,539.85 L759.20,534.55 L763.52,529.25 L767.84,523.95 L772.17,518.66 L776.49,513.38 L780.82,508.09 L785.14,502.81 L789.46,497.54 L793.79,492.27 L798.11,487.00 L802.43,481.74 L806.76,476.49 L811.08,471.24 L815.40,466.00 L819.73,460.77 L824.05,455.55 L828.37,450.34 L832.70,445.13 L837.02,439.94 L841.34,434.76 L845.67,429.59 L849.99,424.44 L854.31,419.30 L858.64,414.18 L862.96,409.08 L867.28,404.00 L871.61,398.95 L875.93,393.91 L880.25,388.91 L884.58,383.94 L888.90,379.00 L893.23,374.10 L897.55,369.24 L901.87,364.42 L906.20,359.66 L910.52,354.95 L914.84,350.30 L919.17,345.72 L923.49,341.21 L927.81,336.78 L932.14,332.45 L936.46,328.21 L940.78,324.08 L945.11,320.07 L949.43,316.19 L953.75,312.46 L958.08,308.88 L962.40,305.48 L966.72,302.28 L971.05,299.28 L975.37,296.51 L979.69,294.00 L984.02,291.76 L988.34,289.83 L992.66,288.22 L996.99,286.97 L1001.31,286.11 L1005.64,285.68 L1009.96,285.70 L1014.28,286.22 L1018.61,287.28 L1022.93,288.91 L1027.25,291.17 L1031.58,294.10 L1035.90,297.74 L1040.22,302.15 L1044.55,307.37 L1048.87,313.46 L1049.35,314.18 L1049.83,314.92 L1050.30,315.67 L1050.78,316.43 L1051.26,317.21 L1051.74,317.99 L1052.21,318.79 L1052.69,319.59 L1053.17,320.41 L1053.65,321.25 L1054.12,322.09 L1054.60,322.94 L1055.08,323.81 L1055.56,324.69 L1056.03,325.58 L1056.51,326.48 L1056.99,327.40 L1057.47,328.33 L1057.94,329.27 L1058.42,330.22 L1058.90,331.19 L1059.38,332.16 L1059.85,333.16 L1060.33,334.16 L1060.81,335.18 L1061.29,336.20 L1061.76,337.25 L1062.24,338.30 L1062.72,339.37 L1063.20,340.45 L1063.68,341.55 L1064.15,342.66 L1064.63,343.78 L1065.11,344.91 L1065.59,346.06 L1066.06,347.22 L1066.54,348.40 L1067.02,349.59 L1067.50,350.79 L1067.97,352.01 L1068.45,353.24 L1068.93,354.48 L1069.41,355.74 L1069.88,357.02 L1070.36,358.30 L1070.84,359.61 L1071.32,360.92 L1071.79,362.25 L1072.27,363.60 L1072.75,364.96 L1073.23,366.33 L1073.70,367.72 L1074.18,369.12 L1074.66,370.54 L1075.14,371.97 L1075.62,373.42 L1076.09,374.88 L1076.57,376.36 L1077.05,377.85 L1077.53,379.36 L1078.00,380.88 L1078.48,382.42 L1078.96,383.97 L1079.44,385.54 L1079.91,387.12 L1080.39,388.72 L1080.87,390.34 L1081.35,391.97 L1081.82,393.61 L1082.30,395.27 L1082.78,396.95 L1083.26,398.64 L1083.73,400.35 L1084.21,402.08 L1084.69,403.82 L1085.17,405.58 L1085.64,407.35 L1086.12,409.14 L1086.60,410.94 L1087.08,412.77 L1087.55,414.60 L1088.03,416.46 L1088.51,418.33 L1088.99,420.22 L1089.47,422.12 L1089.94,424.04 L1090.42,425.98 L1090.90,427.93 L1091.38,429.90 L1091.85,431.88 L1092.33,433.89 L1092.81,435.91 L1093.29,437.95 L1093.76,440.00 L1094.24,442.07 L1094.72,444.16 L1095.20,446.26 L1095.67,448.39 L1096.15,450.53 L1096.63,452.68 L1097.11,454.86 L1097.58,457.05 L1098.06,459.26 L1098.54,461.48 L1099.02,463.72 L1099.49,465.98 L1099.97,468.26 L1100.45,470.56 L1100.93,472.87 L1101.41,475.20 L1101.88,477.55 L1102.36,479.92 L1102.84,482.30 L1103.32,484.70 L1103.79,487.12 L1104.27,489.56 L1104.75,492.01 L1105.23,494.48 L1105.70,496.97 L1106.18,499.48 L1106.66,502.01 L1107.14,504.55 L1107.61,507.12 L1108.09,509.70 L1108.57,512.29 L1109.05,514.91 L1109.52,517.55 L1110.00,520.20 L1110.48,522.87 L1110.96,525.56 L1111.43,528.27 L1111.91,530.99 L1112.39,533.74 L1112.87,536.50 L1113.34,539.28 L1113.82,542.08 L1114.30,544.90 L1114.78,547.73 L1115.26,550.59 L1115.73,553.46 L1116.21,556.35 L1116.69,559.26 L1117.17,562.19 L1117.64,565.14 L1118.12,568.11 L1118.60,571.09 L1119.08,574.09 L1119.55,577.12 L1120.03,580.16 L1120.51,583.21 L1120.99,586.29 L1121.46,589.39 L1121.94,592.50 L1122.42,595.64 L1122.90,598.79 L1123.37,601.96 L1123.85,605.15 L1124.33,608.36 L1124.81,611.59 L1125.28,614.84 L1125.76,618.10 L1126.24,621.38 L1126.72,624.69 L1127.20,628.01 L1127.67,631.35 L1128.15,634.71 L1128.63,638.09 L1129.11,641.49 L1129.58,644.90 L1130.06,648.34 L1130.54,651.79 L1131.02,655.26 L1131.49,658.76 L1131.97,662.27 L1132.45,665.80 L1132.93,669.35 L1133.40,672.91 L1133.88,676.50 L1134.36,680.11 L1134.84,683.73 L1135.31,687.37 L1135.79,691.04 L1136.27,694.72 L1136.75,698.42 L1137.22,702.14 L1137.70,705.87 L1138.18,709.63 L1138.66,713.41 L1139.13,717.20 L1139.61,721.02 L1140.09,724.85 L1140.57,728.70 L1141.05,732.57 L1141.52,736.46 L1142.00,740.37 L1142.48,744.30 L1142.96,748.25 L1143.43,752.21 L1143.91,756.20 L1144.39,760.20 L1144.87,764.22 L1145.34,768.27 L1145.82,772.33 L1146.30,776.41 L1146.78,780.50 L1147.25,784.62 L1147.73,788.76 L1148.21,792.91 L1148.69,797.09 L1149.16,801.28 L1149.64,805.49 L1150.12,809.72 L1150.60,813.97 L1151.07,818.24 L1151.55,822.52 L1152.03,826.83 L1152.51,831.15 L1152.99,835.50 L1153.46,839.86 L1153.94,844.24 L1154.42,848.64 L1154.90,853.06 L1155.37,857.49 L1155.85,861.95 L1156.33,866.43 L1156.81,870.92 L1157.28,875.43 L1157.76,879.96 L1158.24,884.51 L1158.72,889.08 L1159.19,893.66 L1159.67,898.27 L1160.15,902.89 L1160.63,907.54 L1161.10,912.20 L1161.58,916.88 L1162.06,921.58 L1162.54,926.29 L1163.01,931.03 L1163.49,935.78 L1163.97,940.55 L1164.45,945.34 L1164.92,950.15 L1165.40,954.98 L1165.88,959.83 L1166.36,964.69 L1166.84,969.57 L1167.31,974.48 L1167.79,979.39 L1168.27,984.33 L1168.75,989.29 L1169.22,994.26 L1169.70,999.26 L1170.18,1004.27 L1170.66,1009.30 L1171.13,1014.34 L1171.61,1019.41 L1172.09,1024.50 L1172.57,1029.60 L1173.04,1034.72 L1173.52,1039.86 L1174.00,1045.01 L1174.48,1050.19 L1174.95,1055.38 L1175.43,1060.59 L1175.91,1065.82 L1176.39,1071.07 L1176.86,1076.33 L1177.34,1081.62 L1177.82,1086.92 L1178.30,1092.24 L1178.78,1097.57 L1179.25,1102.93 L1179.73,1108.30 L1180.21,1113.69 L1180.69,1119.10 L1181.16,1124.53 L1181.64,1129.97 L1182.12,1135.43 L1182.60,1140.91 L1183.07,1146.41 L1183.55,1151.93 L1184.03,1157.46 L1184.51,1163.01 L1184.98,1168.58 L1185.46,1174.17 L1185.94,1179.77 L1186.42,1185.39 L1186.89,1191.03 L1187.37,1196.69 L1187.85,1202.36 L1188.33,1208.05 L1188.80,1213.76 L1189.28,1219.49 L1189.76,1225.23 L1190.24,1230.99 L1190.71,1236.77 L1191.19,1242.57 L1191.67,1248.38"/>
<text class="tk" text-anchor="middle" transform="translate(187.30,1328.70) scale(0.93,1)">0</text>
<text class="tk" text-anchor="middle" transform="translate(425.30,1328.70) scale(0.93,1)">5</text>
<text class="tk" text-anchor="middle" transform="translate(663.30,1328.70) scale(0.93,1)">10</text>
<text class="tk" text-anchor="middle" transform="translate(901.30,1328.70) scale(0.93,1)">15</text>
<text class="tk" text-anchor="middle" transform="translate(1139.30,1328.70) scale(0.93,1)">20</text>
<text class="tk" text-anchor="middle" transform="translate(1377.30,1328.70) scale(0.93,1)">25</text>
<text class="tk" text-anchor="end" transform="translate(165.50,1272.10) scale(0.93,1)">0</text>
<text class="tk" text-anchor="end" transform="translate(165.50,1031.90) scale(0.93,1)">2</text>
<text class="tk" text-anchor="end" transform="translate(165.50,791.70) scale(0.93,1)">4</text>
<text class="tk" text-anchor="end" transform="translate(165.50,551.50) scale(0.93,1)">6</text>
<text class="tk" text-anchor="end" transform="translate(165.50,311.30) scale(0.93,1)">8</text>
<text class="tk" text-anchor="end" transform="translate(165.50,70.20) scale(0.93,1)">10</text>
<text class="tk" text-anchor="start" transform="translate(1399.00,1272.10) scale(0.93,1)">0</text>
<text class="tk" text-anchor="start" transform="translate(1399.00,1031.90) scale(0.93,1)">15</text>
<text class="tk" text-anchor="start" transform="translate(1399.00,791.70) scale(0.93,1)">30</text>
<text class="tk" text-anchor="start" transform="translate(1399.00,551.50) scale(0.93,1)">45</text>
<text class="tk" text-anchor="start" transform="translate(1399.00,311.30) scale(0.93,1)">60</text>
<text class="tk" text-anchor="start" transform="translate(1399.00,70.20) scale(0.93,1)">75</text>
<text class="lb" text-anchor="middle" transform="translate(779.20,1413.40)">Voltage (V)</text>
<text class="lb" text-anchor="middle" transform="translate(76.30,649.60) rotate(-90)">Current (A)</text>
<text class="lb" text-anchor="middle" transform="translate(1542.40,650.00) rotate(-90)">Power (W)</text>
<rect x="221.5" y="77.5" width="388" height="212" fill="#fff" stroke="#262626" stroke-width="3" shape-rendering="crispEdges"/>
<path d="M233,116.5H353" stroke="#0000ff" stroke-width="5" shape-rendering="crispEdges"/>
<path d="M233,183.5H353" stroke="#ff0000" stroke-width="5" shape-rendering="crispEdges"/>
<use href="#s" x="293.2" y="251"/>
<text class="lg" text-anchor="start" transform="translate(363.60,136.60)" xml:space="preserve">MSX60</text>
<text class="lg" text-anchor="start" transform="translate(362.00,203.40)" xml:space="preserve"> ST40</text>
<text class="lg" text-anchor="start" transform="translate(363.60,271.20)" xml:space="preserve">Exp. data</text>
</svg>
</body></html>
